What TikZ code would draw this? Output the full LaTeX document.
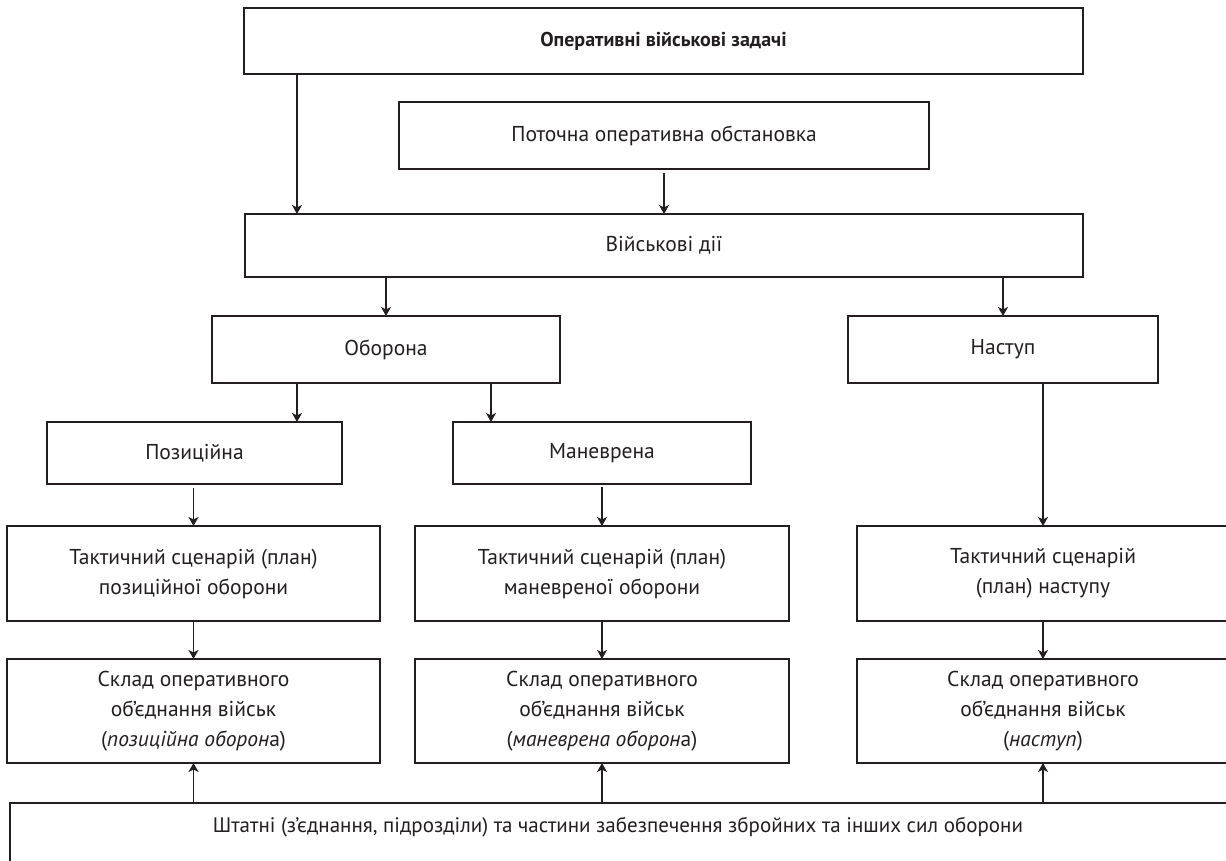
\documentclass[tikz,border=0pt]{standalone}
\usepackage{fontspec}
\setmainfont{PT Sans}
\usetikzlibrary{arrows.meta}
\definecolor{ink}{HTML}{231F20}
\begin{document}
\begin{tikzpicture}[x=1pt,y=-1pt,
  box/.style={draw=ink, line width=2.1pt, rectangle, inner sep=0pt, outer sep=0pt,
    align=center, text=ink, font=\fontsize{21.5}{30}\selectfont},
  lbl/.style={inner sep=0pt, text=ink, font=\fontsize{21}{30}\selectfont},
  arr/.style={draw=ink, line width=1.4pt, -{Stealth[length=9pt,width=10pt,inset=2.5pt]}},
]
\useasboundingbox (0,0) rectangle (1226,861);
\fill[white] (0,0) rectangle (1226,861);
\clip (0,0) rectangle (1226,861);

\node[box, minimum width=839pt, minimum height=66pt, font=\bfseries\fontsize{20}{28}\selectfont] (top) at (663.5,41) {\raisebox{-3pt}{Оперативні військові задачі}};
\node[box, minimum width=530pt, minimum height=67pt] (cur) at (664,135.5) {Поточна оперативна обстановка};
\node[box, minimum width=838pt, minimum height=63pt] (mil) at (664,245.5) {Військові дії};
\node[box, minimum width=348pt, minimum height=67pt] (obor) at (386,349.5) {Оборона};
\node[box, minimum width=310pt, minimum height=67pt] (nast) at (1003,349.5) {Наступ};
\node[box, minimum width=295pt, minimum height=62pt] (poz) at (194.5,453) {Позиційна};
\node[box, minimum width=298pt, minimum height=62pt] (man) at (602,453) {Маневрена};
\node[box, minimum width=373pt, minimum height=95pt] (t1) at (193.5,573.5) {Тактичний сценарій (план)\\позиційної оборони};
\node[box, minimum width=374pt, minimum height=95pt] (t2) at (602,573.5) {Тактичний сценарій (план)\\маневреної оборони};
\node[box, minimum width=372pt, minimum height=95pt] (t3) at (1043,573.5) {Тактичний сценарій\\(план) наступу};
\node[box, minimum width=373pt, minimum height=104pt] (s1) at (193.5,711) {Склад оперативного\\об’єднання військ\\(\textit{позиційна оборон}а)};
\node[box, minimum width=374pt, minimum height=104pt] (s2) at (602,711) {Склад оперативного\\об’єднання військ\\(\textit{маневрена оборон}а)};
\node[box, minimum width=372pt, minimum height=104pt] (s3) at (1043,711) {Склад оперативного\\об’єднання військ\\(\textit{наступ})};
\node[box, minimum width=1220pt, minimum height=97pt] (base) at (620,851.5) {};
\node[lbl] (basetext) at (618,827) {Штатні (з’єднання, підрозділи) та частини забезпечення збройних та інших сил оборони};

\coordinate (t0) at ([xshift=53pt]top.south west);
\coordinate (o1) at ([xshift=85pt]obor.south west);
\coordinate (o2) at ([xshift=279pt]obor.south west);

\draw[arr] (t0) -- (t0 |- mil.north);
\draw[arr, shorten <=4pt] (cur.south) -- (cur.south |- mil.north);
\draw[arr] (mil.south -| obor.north) -- (obor.north);
\draw[arr] (mil.south -| nast.north) -- (nast.north);
\draw[arr] (o1) -- (o1 |- poz.north);
\draw[arr] (o2) -- (o2 |- man.north);
\draw[arr, shorten <=4pt] (poz.south -| t1.north) -- (t1.north);
\draw[arr, shorten <=3pt] (man.south -| t2.north) -- (t2.north);
\draw[arr] (nast.south -| t3.north) -- (t3.north);
\draw[arr] (t1.south) -- (s1.north);
\draw[arr] (t2.south) -- (s2.north);
\draw[arr] (t3.south) -- (s3.north);
\draw[arr] (base.north -| s1.south) -- (s1.south);
\draw[arr] (base.north -| s2.south) -- (s2.south);
\draw[arr] (base.north -| s3.south) -- (s3.south);
\end{tikzpicture}
\end{document}
